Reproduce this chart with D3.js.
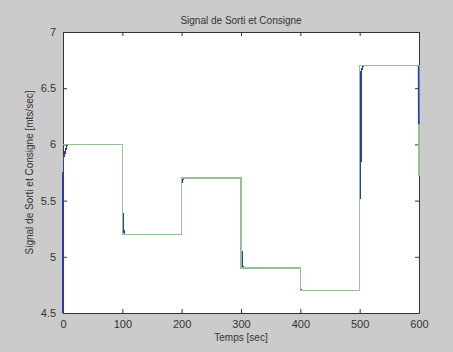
<!DOCTYPE html>
<html>
<head>
<meta charset="utf-8">
<script src="https://cdn.jsdelivr.net/npm/d3@7"></script>
<style>
  body { margin: 0; background: #cbcbcb; }
  text { font-family: "Liberation Sans", Arial, sans-serif; fill: #333; }
</style>
</head>
<body>
<div class="canvas"></div>
<script>
var width = 453;
var height = 352;

// consigne: step levels, each held from its start time to the next one
var consigneT = [0, 100, 200, 300, 400, 500];
var consigneV = [6.0, 5.2, 5.7, 4.9, 4.7, 6.7];
var consigneEnd = [600, 5.72];

// sortie (system output)
var sortieT = [0, 0.3, 1, 7,
    100, 100, 101.6, 101.8, 104,
    200, 200, 201.6, 203,
    300, 300, 301.8, 302, 305,
    400, 400, 402,
    500, 500, 501.8, 502, 506,
    599.3, 599.6];
var sortieV = [4.5, 5.72, 5.88, 6.0,
    6.0, 5.4, 5.38, 5.25, 5.2,
    5.2, 5.66, 5.68, 5.7,
    5.7, 5.06, 5.05, 4.92, 4.9,
    4.9, 4.72, 4.7,
    4.7, 5.52, 5.53, 6.64, 6.7,
    6.7, 6.18];

var xTicks = [0, 100, 200, 300, 400, 500, 600];
var yTicks = [4.5, 5, 5.5, 6, 6.5, 7];

const plot = { left: 63, right: 419, top: 32, bottom: 313 };

var x = d3.scaleLinear().domain([0, 600]).range([plot.left, plot.right]);
var y = d3.scaleLinear().domain([4.5, 7]).range([plot.bottom, plot.top]);

var svg = d3.select(".canvas").append("svg")
    .attr("width", width)
    .attr("height", height)
    .style("background", "#cbcbcb");

svg.append("rect")
    .attr("x", plot.left).attr("y", plot.top)
    .attr("width", plot.right - plot.left).attr("height", plot.bottom - plot.top)
    .attr("fill", "white");

// axes, MATLAB style: ticks inward on all four sides
var axisBottom = d3.axisBottom(x).tickValues(xTicks).tickSize(-4).tickSizeOuter(0).tickPadding(7).tickFormat(d3.format("d"));
var axisTop = d3.axisTop(x).tickValues(xTicks).tickSize(-4).tickSizeOuter(0).tickFormat("");
var axisLeft = d3.axisLeft(y).tickValues(yTicks).tickSize(-4).tickSizeOuter(0).tickPadding(7).tickFormat(d => d);
var axisRight = d3.axisRight(y).tickValues(yTicks).tickSize(-4).tickSizeOuter(0).tickFormat("");

function styleAxis(g) {
    g.select(".domain").attr("stroke", "#333").attr("stroke-width", 1);
    g.selectAll(".tick line").attr("stroke", "#333");
    g.selectAll(".tick text").style("font-size", "11px").attr("fill", "#333");
}

svg.append("g").attr("transform", `translate(0,${plot.bottom})`).call(axisBottom).call(styleAxis);
svg.append("g").attr("transform", `translate(0,${plot.top})`).call(axisTop).call(styleAxis);
svg.append("g").attr("transform", `translate(${plot.left},0)`).call(axisLeft).call(styleAxis);
svg.append("g").attr("transform", `translate(${plot.right},0)`).call(axisRight).call(styleAxis);

// build the step path of the consigne
var consigne = [];
consigneT.forEach((t, i) => {
    var tEnd = i < consigneT.length - 1 ? consigneT[i + 1] : consigneEnd[0];
    consigne.push([t, consigneV[i]]);
    consigne.push([tEnd, consigneV[i]]);
});
consigne.push(consigneEnd);

var sortie = sortieT.map((t, i) => [t, sortieV[i]]);

var line = d3.line().x(d => x(d[0])).y(d => y(d[1]));

svg.append("path")
    .attr("d", line(sortie))
    .attr("fill", "none")
    .attr("stroke", "#2a3cb4")
    .attr("stroke-width", 1.5)
    .attr("shape-rendering", "crispEdges");

svg.append("path")
    .attr("d", line(consigne))
    .attr("fill", "none")
    .attr("stroke", "#98c098")
    .attr("stroke-width", 1.5)
    .attr("shape-rendering", "crispEdges");

// the last blue drop shows over the green at t=600
svg.append("path")
    .attr("d", line(sortie.slice(-2)))
    .attr("fill", "none")
    .attr("stroke", "#2a3cb4")
    .attr("stroke-width", 1.6);

svg.append("text")
    .attr("x", (plot.left + plot.right) / 2).attr("y", 24)
    .attr("text-anchor", "middle")
    .style("font-size", "10px")
    .text("Signal de Sorti et Consigne");

svg.append("text")
    .attr("x", (plot.left + plot.right) / 2).attr("y", 341)
    .attr("text-anchor", "middle")
    .style("font-size", "10px")
    .text("Temps [sec]");

svg.append("text")
    .attr("transform", `translate(33,${(plot.top + plot.bottom) / 2}) rotate(-90)`)
    .attr("text-anchor", "middle")
    .style("font-size", "10px")
    .text("Signal de Sorti et Consigne [mts/sec]");
</script>
</body>
</html>
